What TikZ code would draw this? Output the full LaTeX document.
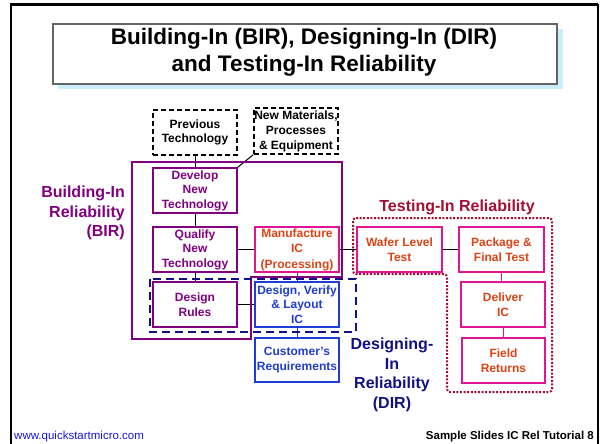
\documentclass[tikz,border=0pt]{standalone}
\usepackage{fontspec}
\setmainfont{Liberation Sans}
\definecolor{birpurple}{RGB}{128,0,128}
\definecolor{procpink}{RGB}{225,20,150}
\definecolor{procorange}{RGB}{222,66,20}
\definecolor{tirred}{RGB}{165,14,50}
\definecolor{dirblue}{RGB}{30,60,215}
\definecolor{dirnavy}{RGB}{16,16,135}
\definecolor{shadowblue}{RGB}{204,236,255}
\definecolor{titlegray}{RGB}{100,100,100}
\definecolor{urlblue}{RGB}{20,20,230}
\begin{document}
\begin{tikzpicture}[x=1pt,y=-1pt,
  box/.style={draw, line width=1.4pt, minimum width=84pt, minimum height=45pt,
    inner sep=0pt, align=center, font=\bfseries\fontsize{12}{14.5}\selectfont},
  inbox/.style={box, dash pattern=on 5pt off 3pt, line width=1.3pt, draw=black},
  birbox/.style={box, draw=birpurple, text=birpurple},
  procbox/.style={box, draw=procpink, text=procorange},
  dirbox/.style={box, draw=dirblue, text=dirblue},
  link/.style={line width=1pt, draw=black},
  biglabel/.style={font=\bfseries\fontsize{16}{19.5}\selectfont, inner sep=0pt}
]
\useasboundingbox (0,0) rectangle (600,444);

% slide frame
\draw[line width=2.5pt] (11,444) -- (11,4.5) -- (598,4.5);
\draw[line width=1.2pt] (598,4.5) -- (598,444);

% title panel with shadow
\fill[shadowblue] (58,29) rectangle (563,89);
\draw[titlegray, fill=white, line width=1.5pt] (53,24) rectangle (557,84);
\node[font=\bfseries\fontsize{22.5}{27}\selectfont, align=center, inner sep=0pt]
  (title) at (304,52) {Building-In (BIR), Designing-In (DIR)\\and Testing-In Reliability};

% inputs
\node[inbox] (prev) at (195,132.5) {Previous\\Technology};
\node[inbox, minimum height=46pt, font=\bfseries\fontsize{12}{15}\selectfont] (newmat) at (296,131) {New Materials,\\Processes\\\& Equipment};

% building-in steps
\node[birbox] (dev) at (195,190.5) {Develop\\New\\Technology};
\node[birbox] (qual) at (195,249.5) {Qualify\\New\\Technology};
\node[birbox] (rules) at (195,304.5) {Design\\Rules};

% processing and test flow
\node[procbox, font=\bfseries\fontsize{12}{15.5}\selectfont] (manu) at (297,249.5) {Manufacture\\IC\\(Processing)};
\node[procbox, minimum width=85pt] (wafer) at (399.5,249.5) {Wafer Level\\Test};
\node[procbox, minimum width=85pt] (pkg) at (501.5,249.5) {Package \&\\Final Test};
\node[procbox] (deliver) at (503,304.5) {Deliver\\IC};
\node[procbox, minimum width=83pt] (field) at (503.5,360.5) {Field\\Returns};

% design steps
\node[dirbox] (dvl) at (297,304.5) {Design, Verify\\\& Layout\\IC};
\node[dirbox, minimum height=44pt] (cust) at (297,360) {Customer’s\\Requirements};

% connectors
\draw[link] (prev.south) -- (dev.north);
\draw[link] (newmat.south west) -- (dev.north east);
\draw[link] (dev.south) -- (qual.north);
\draw[link] (qual.south) -- (rules.north);
\draw[link] (qual.east) -- (manu.west);
\draw[link] (manu.east) -- (wafer.west);
\draw[link] (wafer.east) -- (pkg.west);
\draw[link] (rules.east) -- (dvl.west);
\draw[link, draw=dirblue] (manu.south) -- (dvl.north);
\draw[link, draw=dirblue] (dvl.south) -- (cust.north);
\draw[link, draw=procpink] (pkg.south) -- (pkg.south |- deliver.north);
\draw[link, draw=procpink] (deliver.south) -- (deliver.south |- field.north);

% building-in region
\draw[birpurple, line width=2pt]
  (132,162) -- (342,162) -- (342,277) -- (251,277) -- (251,339) -- (132,339) -- cycle;
\node[biglabel, text=birpurple, align=right, anchor=east] (birlabel) at (125,213)
  {Building-In\\Reliability\\(BIR)};

% testing-in region
\draw[tirred, line width=2pt, dash pattern=on 2pt off 1.6pt, rounded corners=3pt]
  (353,218) -- (552,218) -- (552,392) -- (447,392) -- (447,274) -- (353,274) -- cycle;
\node[biglabel, text=tirred] (tirlabel) at (457,207) {Testing-In Reliability};

% designing-in region
\draw[dirnavy, line width=2.5pt, dash pattern=on 8pt off 5pt]
  (150,279) rectangle (356,332);
\node[biglabel, text=dirnavy, align=center] (dirlabel) at (392,375)
  {Designing-\\In\\Reliability\\(DIR)};

% footer
\node[anchor=base west, inner sep=0pt, text=urlblue, font=\fontsize{11.5}{13}\selectfont]
  (url) at (14,439) {www.quickstartmicro.com};
\node[anchor=base east, inner sep=0pt, font=\bfseries\fontsize{11.5}{13}\selectfont]
  (slideno) at (594,439) {Sample Slides IC Rel Tutorial 8};
\end{tikzpicture}
\end{document}
